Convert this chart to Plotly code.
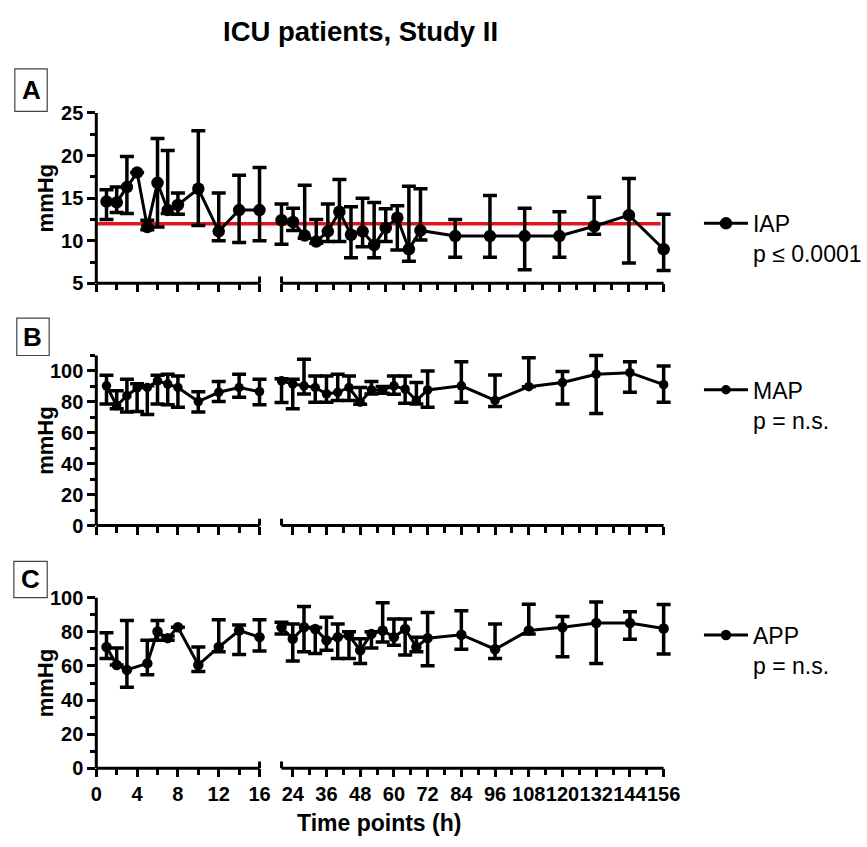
import plotly.graph_objects as go

# ---------------- data ----------------
seg1_hours_AB = [1, 2, 3, 4, 5, 6, 7, 8, 10, 12, 14, 16]
seg1_hours_C = [1, 2, 3, 5, 6, 7, 8, 10, 12, 14, 16]
seg2_hours_A = [24, 28, 32, 36, 40, 44, 48, 52, 56, 60, 64, 68, 72, 84, 96, 108, 120, 132, 144, 156]
seg2_hours_BC = [20, 24, 28, 32, 36, 40, 44, 48, 52, 56, 60, 64, 68, 72, 84, 96, 108, 120, 132, 144, 156]

# IAP (median, lower, upper)
iap_s1_med = [14.6, 14.5, 16.3, 18.0, 11.6, 16.8, 13.6, 14.2, 16.1, 11.1, 13.6, 13.6]
iap_s1_lo = [12.5, 13.3, 13.2, 18.0, 11.3, 11.6, 13.2, 13.1, 11.8, 10.0, 9.8, 10.0]
iap_s1_hi = [16.0, 16.3, 19.9, 18.0, 12.4, 22.0, 20.6, 15.6, 22.9, 15.6, 17.7, 18.6]
iap_s2_med = [12.4, 12.2, 10.6, 9.9, 11.1, 13.4, 10.7, 11.1, 9.5, 11.5, 12.7, 9.0, 11.2,
              10.55, 10.55, 10.55, 10.55, 11.7, 13.0, 9.0]
iap_s2_lo = [9.6, 11.2, 10.3, 9.7, 9.9, 9.9, 8.0, 9.3, 8.0, 9.9, 8.9, 7.6, 10.1,
             8.05, 8.05, 6.6, 8.05, 10.75, 7.4, 6.5]
iap_s2_hi = [14.3, 13.8, 16.5, 12.5, 14.3, 17.2, 14.0, 15.0, 14.5, 13.75, 14.1, 16.4, 16.1,
             12.5, 15.3, 13.8, 13.4, 15.1, 17.3, 13.1]
iap_threshold = 12

# MAP
map_s1_med = [90.4, 77.5, 84.0, 89.0, 89.3, 93.6, 91.5, 89.3, 80.2, 86.2, 89.3, 86.6]
map_s1_lo = [78.7, 75.6, 73.4, 73.8, 71.9, 78.7, 78.1, 76.6, 73.4, 80.2, 83.0, 78.1]
map_s1_hi = [97.2, 87.2, 94.7, 91.7, 90.5, 97.2, 97.9, 96.8, 86.6, 93.2, 97.9, 94.7]
map_s2_med = [93.6, 91.5, 90.4, 89.3, 85.1, 86.2, 89.3, 79.8, 87.7, 87.7, 90.4, 88.3, 80.9, 87.7,
              90.4, 80.9, 89.8, 92.5, 97.9, 98.9, 91.1]
map_s2_lo = [79.6, 75.6, 85.1, 79.8, 79.8, 80.9, 80.9, 78.5, 85.1, 85.5, 85.0, 79.1, 78.7, 76.6,
             79.8, 77.0, 89.8, 78.7, 72.4, 86.2, 79.8]
map_s2_hi = [95.0, 94.7, 107.5, 96.8, 96.8, 97.9, 96.8, 89.3, 93.2, 90.0, 96.8, 96.8, 92.5, 100.0,
             105.9, 97.4, 108.5, 99.6, 110.0, 105.9, 103.2]

# APP
app_s1_med = [71.1, 60.6, 57.7, 61.5, 80.2, 76.3, 82.7, 60.6, 71.1, 80.8, 76.9]
app_s1_lo = [64.4, 60.6, 47.5, 54.8, 75.0, 75.0, 82.7, 56.7, 68.3, 66.7, 68.7]
app_s1_hi = [79.4, 70.6, 86.6, 75.0, 86.6, 77.5, 82.7, 71.1, 87.1, 84.0, 87.1]
app_s2_med = [82.7, 75.9, 82.7, 81.7, 75.0, 76.9, 77.9, 69.2, 78.8, 80.8, 76.9, 81.7, 71.1, 76.3,
              78.3, 69.8, 80.8, 82.7, 85.2, 85.2, 82.0]
app_s2_lo = [78.8, 62.9, 68.3, 67.3, 69.2, 64.4, 64.4, 61.5, 70.6, 74.0, 72.1, 66.4, 68.3, 60.2,
             69.8, 64.4, 78.8, 65.4, 61.5, 75.6, 67.0]
app_s2_hi = [85.6, 84.6, 94.8, 82.5, 88.5, 84.6, 80.0, 75.9, 80.0, 97.1, 87.5, 87.5, 76.9, 91.3,
             92.3, 84.6, 96.1, 89.0, 97.5, 91.7, 96.0]

legend_names = ["IAP<br>p \u2264 0.0001", "MAP<br>p = n.s.", "APP<br>p = n.s."]
panel_letters = ["A", "B", "C"]
x_ticks_seg1 = [0, 4, 8, 12, 16]
x_minor_seg1 = [2, 6, 10, 14]
x_ticks_seg2 = [24, 36, 48, 60, 72, 84, 96, 108, 120, 132, 144, 156]
x_minor_seg2 = [30, 42, 54, 66, 78, 90, 102, 114, 126, 138, 150]
y_ticks_A = [5, 10, 15, 20, 25]
y_minor_A = [7.5, 12.5, 17.5, 22.5]
y_ticks_BC = [0, 20, 40, 60, 80, 100]
y_minor_B = [10, 30, 50, 70, 90, 110]
y_minor_C = [10, 30, 50, 70, 90]
y_ranges = [(5, 25), (0, 110), (0, 100)]
seg1_range = (0, 16)
seg2_end = 156

# ---------------- layout geometry (pixels) ----------------
W, H = 867, 847
FONT = "Liberation Sans, Arial, sans-serif"
PAD = 9  # extra room so edge markers / error caps are not clipped
seg1_px = (92, 258.3)
seg2_px = (280.7, 670)
panels_px = [(112.7, 285.7), (359, 531.7), (605, 778.3)]  # top, bottom of axis lines
legend_top_px = [203, 372, 621]
letter_boxes = [(9, 68, 42, 111), (11, 321, 44, 359), (8, 568, 42, 605)]

fig = go.Figure()

panel_data = [
    (seg1_hours_AB, iap_s1_med, iap_s1_lo, iap_s1_hi, seg2_hours_A, iap_s2_med, iap_s2_lo, iap_s2_hi, 12.5),
    (seg1_hours_AB, map_s1_med, map_s1_lo, map_s1_hi, seg2_hours_BC, map_s2_med, map_s2_lo, map_s2_hi, 9.5),
    (seg1_hours_C, app_s1_med, app_s1_lo, app_s1_hi, seg2_hours_BC, app_s2_med, app_s2_lo, app_s2_hi, 10.5),
]


def add_series(x, med, lo, hi, xa, ya, ms, name, legend, show):
    fig.add_trace(go.Scatter(
        x=x, y=med, mode="lines+markers", name=name,
        line=dict(color="black", width=3),
        marker=dict(size=ms, color="black"),
        error_y=dict(type="data", symmetric=False,
                     array=[h - m for h, m in zip(hi, med)],
                     arrayminus=[m - l for m, l in zip(med, lo)],
                     color="black", thickness=3.5, width=7),
        cliponaxis=False, xaxis=xa, yaxis=ya,
        legend=legend, showlegend=show,
    ))


tickfont = dict(family=FONT, size=20, color="black", weight="bold")
axis_common = dict(showgrid=False, zeroline=False, showline=False,
                   ticks="outside", tickcolor="black", tickwidth=2.5, ticklen=8,
                   tickfont=tickfont, tickangle=0)


def minor(vals, ln=5):
    return dict(tickmode="array", tickvals=vals, ticks="outside", ticklen=ln,
                tickwidth=2.5, tickcolor="black")


shapes = []
annotations = []
layout = {}
LINE = dict(color="black", width=3)
for i, (h1, m1, l1, u1, h2, m2, l2, u2, ms) in enumerate(panel_data):
    xa1 = "x" if i == 0 else f"x{2 * i + 1}"
    xa2 = f"x{2 * i + 2}"
    ya = "y" if i == 0 else f"y{i + 1}"
    leg = "legend" if i == 0 else f"legend{i + 1}"
    add_series(h1, m1, l1, u1, xa1, ya, ms, legend_names[i], leg, True)
    add_series(h2, m2, l2, u2, xa2, ya, ms, legend_names[i], leg, False)

    show_lbl = (i == 2)
    key1 = "xaxis" if i == 0 else f"xaxis{2 * i + 1}"
    key2 = f"xaxis{2 * i + 2}"
    ykey = "yaxis" if i == 0 else f"yaxis{i + 1}"

    # seg1 x axis: extended to the right by PAD px
    s1lo, s1hi = seg1_range
    ppx1 = (seg1_px[1] - seg1_px[0]) / (s1hi - s1lo)
    layout[key1] = dict(axis_common, domain=[seg1_px[0] / W, (seg1_px[1] + PAD) / W],
                        anchor=ya, range=[s1lo, s1hi + PAD / ppx1],
                        tickvals=x_ticks_seg1, showticklabels=show_lbl,
                        minor=minor(x_minor_seg1, 6))
    # seg2 x axis: extended both sides
    s2lo = h2[0]
    ppx2 = (seg2_px[1] - seg2_px[0]) / (seg2_end - s2lo)
    layout[key2] = dict(axis_common, domain=[(seg2_px[0] - PAD) / W, (seg2_px[1] + PAD) / W],
                        anchor=ya, range=[s2lo - PAD / ppx2, seg2_end + PAD / ppx2],
                        tickvals=x_ticks_seg2, showticklabels=show_lbl,
                        minor=minor(x_minor_seg2, 6))
    # y axis: extended on top by PAD px
    ylo, yhi = y_ranges[i]
    top, bot = panels_px[i]
    ppy = (bot - top) / (yhi - ylo)
    layout[ykey] = dict(axis_common, domain=[1 - bot / H, 1 - (top - PAD) / H],
                        anchor=xa1, range=[ylo, yhi + PAD / ppy],
                        tickvals=y_ticks_A if i == 0 else y_ticks_BC,
                        minor=minor([y_minor_A, y_minor_B, y_minor_C][i], 5))

    # axis lines (exact extents)
    shapes.append(dict(type="line", xref=xa1, yref=f"{ya} domain",
                       x0=s1lo - 1.5 / ppx1, x1=s1hi, y0=0, y1=0, line=LINE))
    shapes.append(dict(type="line", xref=xa2, yref=f"{ya} domain",
                       x0=s2lo, x1=seg2_end, y0=0, y1=0, line=LINE))
    shapes.append(dict(type="line", xref=f"{xa1} domain", yref=ya,
                       x0=0, x1=0, y0=ylo - 1.5 / ppy, y1=yhi, line=LINE))
    # axis break caps
    for xref, xv in ((xa1, s1hi), (xa2, s2lo)):
        shapes.append(dict(type="line", xref=xref, yref=ya, x0=xv, x1=xv,
                           y0=ylo - 7 / ppy, y1=ylo + 7 / ppy, line=LINE))

    # legend
    layout[leg] = dict(x=706 / W, y=1 - legend_top_px[i] / H, xanchor="left", yanchor="top",
                       valign="top", bgcolor="rgba(0,0,0,0)", borderwidth=0, itemwidth=44,
                       font=dict(family=FONT, size=23, color="black"))

    # panel letter
    box = letter_boxes[i]
    shapes.append(dict(type="rect", xref="paper", yref="paper",
                       x0=box[0] / W, x1=box[2] / W, y0=1 - box[3] / H, y1=1 - box[1] / H,
                       line=dict(color="#444444", width=1.2), fillcolor="white"))
    annotations.append(dict(text=f"<b>{panel_letters[i]}</b>", xref="paper", yref="paper",
                            x=(box[0] + box[2]) / 2 / W, y=1 - (box[1] + box[3]) / 2 / H,
                            xanchor="center", yanchor="middle", showarrow=False,
                            font=dict(family=FONT, size=26, color="black")))
    # y title
    annotations.append(dict(text="<b>mmHg</b>", xref="paper", yref="paper", textangle=-90,
                            x=40 / W, y=1 - (top + bot) / 2 / H,
                            xanchor="center", yanchor="middle", showarrow=False,
                            font=dict(family=FONT, size=22, color="black")))

# threshold line across the whole IAP panel
shapes.append(dict(type="line", xref="paper", yref="y", x0=seg1_px[0] / W, x1=(seg2_px[1] - 3) / W,
                   y0=iap_threshold, y1=iap_threshold, line=dict(color="#e0161b", width=3.5),
                   layer="below"))

annotations.append(dict(text="<b>ICU patients, Study II</b>", xref="paper", yref="paper",
                        x=361 / W, y=1 - 30 / H, xanchor="center", yanchor="middle",
                        showarrow=False, font=dict(family=FONT, size=27.5, color="black")))
annotations.append(dict(text="<b>Time points (h)</b>", xref="paper", yref="paper",
                        x=380 / W, y=1 - 834 / H, xanchor="center", yanchor="middle",
                        showarrow=False, font=dict(family=FONT, size=23, color="black")))

fig.update_layout(width=W, height=H, margin=dict(l=0, r=0, t=0, b=0),
                  plot_bgcolor="white", paper_bgcolor="white", showlegend=True,
                  shapes=shapes, annotations=annotations, **layout)

fig.write_html("out.html")
